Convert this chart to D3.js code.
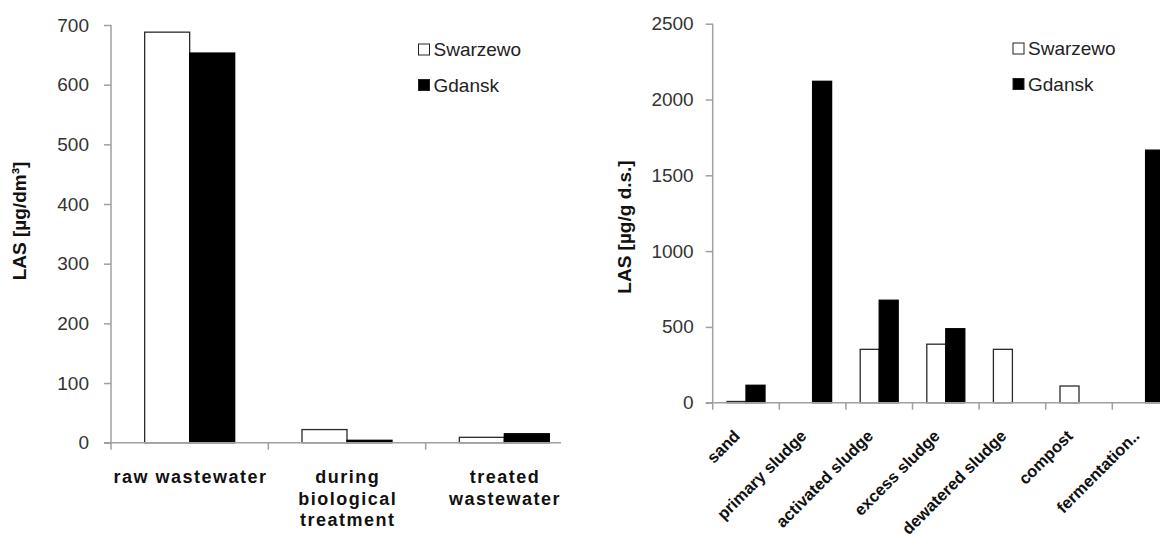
<!DOCTYPE html>
<html>
<head>
<meta charset="utf-8">
<script src="https://cdn.jsdelivr.net/npm/d3@7/dist/d3.min.js"></script>
<style>
  html, body { margin: 0; padding: 0; background: #ffffff; }
  svg { display: block; font-family: "Liberation Sans", Arial, sans-serif; }
</style>
</head>
<body>
<svg id="chart" width="1160" height="539"></svg>
<script>
// ---------- data ----------
const seriesNames = ["Swarzewo", "Gdansk"];
const seriesFill = ["#ffffff", "#000000"];

const waterCategories = ["raw wastewater", "during biological treatment", "treated wastewater"];
const waterLabelLines = [["raw wastewater"], ["during", "biological", "treatment"], ["treated", "wastewater"]];
const waterSwarzewo = [688, 22, 9];
const waterGdansk = [653, 4, 15];
const waterTicks = [0, 100, 200, 300, 400, 500, 600, 700];

const sludgeCategories = ["sand", "primary sludge", "activated sludge", "excess sludge", "dewatered sludge", "compost", "fermentation.."];
const sludgeSwarzewo = [8, 0, 352, 386, 352, 110, 0];
const sludgeGdansk = [115, 2120, 676, 488, 0, 0, 1666];
const sludgeTicks = [0, 500, 1000, 1500, 2000, 2500];

// ---------- drawing ----------
const svg = d3.select("#chart");
const axisColor = "#a0a0a0";

function drawPanel(cfg) {
  const g = svg.append("g");
  const x = d3.scaleBand().domain(cfg.categories).range(cfg.xRange).paddingInner(0).paddingOuter(0);
  const xs = d3.scaleBand().domain(seriesNames).range([0, x.bandwidth()]).paddingInner(0).paddingOuter(cfg.outerPad);
  const y = d3.scaleLinear().domain(cfg.yDomain).range(cfg.yRange);
  const y0 = y(0);

  // bars
  const values = [cfg.s1, cfg.s2];
  seriesNames.forEach((s, si) => {
    g.append("g").selectAll("rect")
      .data(cfg.categories.map((c, i) => ({ c, v: values[si][i] })).filter(d => d.v > 0))
      .join("rect")
      .attr("x", d => x(d.c) + xs(s))
      .attr("y", d => y(d.v))
      .attr("width", xs.bandwidth())
      .attr("height", d => y0 - y(d.v))
      .attr("fill", seriesFill[si])
      .attr("stroke", si === 0 ? "#2a2a2a" : "#000")
      .attr("stroke-width", 1.3);
  });

  // y axis
  const yAxis = d3.axisLeft(y).tickValues(cfg.yTicks).tickFormat(d3.format("d"))
    .tickSize(7).tickSizeOuter(0).tickPadding(cfg.tickPad);
  const ya = g.append("g").attr("transform", `translate(${cfg.xRange[0]},0)`).call(yAxis);
  ya.select(".domain").attr("stroke", axisColor).attr("stroke-width", 1.5)
    .attr("d", `M0,${cfg.yRange[1]}V${y0 + 7}`);
  ya.selectAll(".tick line").attr("stroke", axisColor).attr("stroke-width", 1.5);
  ya.selectAll(".tick text").attr("fill", "#333").attr("font-size", 19)
    .attr("font-family", "'Liberation Sans', Arial, sans-serif");

  // x axis line + ticks at band boundaries
  const xa = g.append("g");
  xa.append("line").attr("x1", cfg.xRange[0] - 7).attr("x2", cfg.xAxisEnd)
    .attr("y1", y0).attr("y2", y0).attr("stroke", axisColor).attr("stroke-width", 1.5);
  const bounds = cfg.categories.map(c => x(c)).concat([x.range()[1]]);
  xa.selectAll("line.tk").data(bounds.slice(1).filter(d => d < cfg.xAxisEnd)).join("line").attr("class", "tk")
    .attr("x1", d => d).attr("x2", d => d).attr("y1", y0).attr("y2", y0 + 7)
    .attr("stroke", axisColor).attr("stroke-width", 1.5);

  // y title
  g.append("text")
    .attr("transform", `translate(${cfg.titleX},${cfg.titleY}) rotate(-90)`)
    .attr("text-anchor", "middle").attr("font-weight", "bold").attr("font-size", 19)
    .attr("fill", "#111").text(cfg.title);

  // legend
  const lg = g.append("g");
  seriesNames.forEach((s, si) => {
    lg.append("rect").attr("x", cfg.legX).attr("y", cfg.legY + si * 35.5)
      .attr("width", 11).attr("height", 11)
      .attr("fill", seriesFill[si]).attr("stroke", "#222").attr("stroke-width", 1);
    lg.append("text").attr("x", cfg.legX + 15).attr("y", cfg.legY + si * 35.5 + 12)
      .attr("font-size", 19).attr("fill", "#222").text(s);
  });
  return { g, x, y };
}

// left panel
const left = drawPanel({
  categories: waterCategories, s1: waterSwarzewo, s2: waterGdansk,
  xRange: [111, 583], outerPad: 0.748, xAxisEnd: 561,
  yDomain: [0, 700], yRange: [442.7, 25], yTicks: waterTicks, tickPad: 15,
  title: "LAS [µg/dm³]", titleX: 26, titleY: 221,
  legX: 418.5, legY: 44
});
waterCategories.forEach((c, i) => {
  const cx = left.x(c) + left.x.bandwidth() / 2;
  const t = left.g.append("text").attr("text-anchor", "middle")
    .attr("font-weight", "bold").attr("font-size", 18).attr("letter-spacing", 1.5)
    .attr("fill", "#111");
  waterLabelLines[i].forEach((line, li) => {
    t.append("tspan").attr("x", cx + 0.75).attr("y", 483 + li * 21.5).text(line);
  });
});

// right panel
const right = drawPanel({
  categories: sludgeCategories, s1: sludgeSwarzewo, s2: sludgeGdansk,
  xRange: [712.7, 712.7 + 7 * 66.6], outerPad: 0.7526, xAxisEnd: 1160,
  yDomain: [0, 2500], yRange: [402.7, 23.7], yTicks: sludgeTicks, tickPad: 12,
  title: "LAS [µg/g d.s.]", titleX: 631, titleY: 227,
  legX: 1013, legY: 43
});
sludgeCategories.forEach(c => {
  const cx = right.x(c) + right.x.bandwidth() / 2;
  right.g.append("text")
    .attr("transform", `translate(${cx - 5},${437}) rotate(-45)`)
    .attr("text-anchor", "end").attr("font-weight", "bold").attr("font-size", 16.5)
    .attr("fill", "#111").text(c);
});
</script>
</body>
</html>
